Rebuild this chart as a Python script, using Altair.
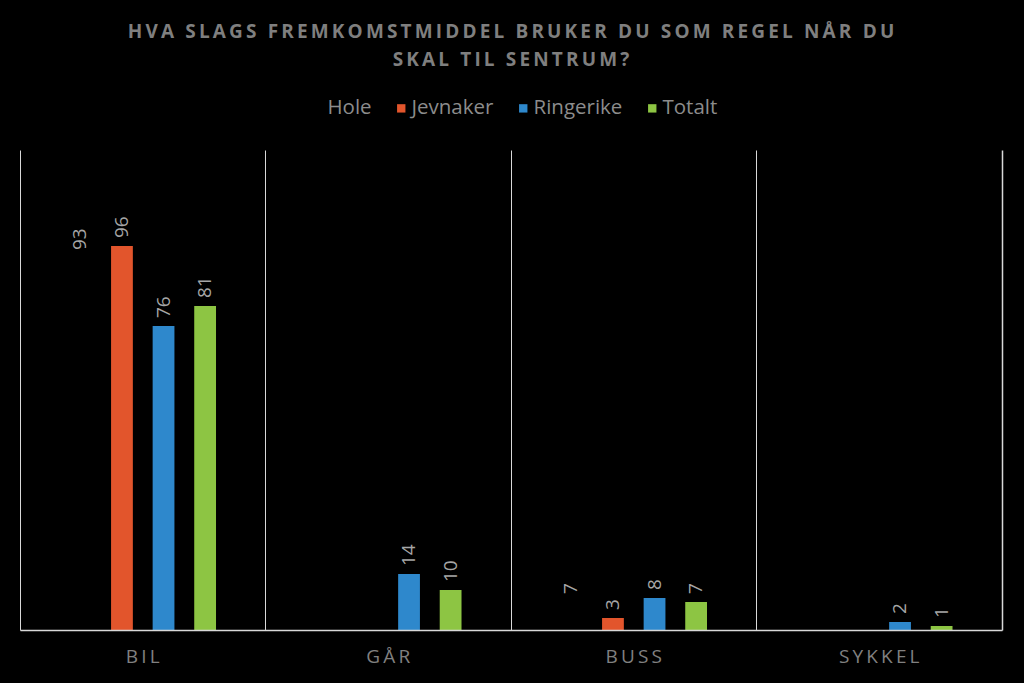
import altair as alt
import pandas as pd

categories = ["BIL", "GÅR", "BUSS", "SYKKEL"]
series = ["Hole", "Jevnaker", "Ringerike", "Totalt"]
hole = [93, None, 7, None]
jevnaker = [96, None, 3, None]
ringerike = [76, 14, 8, 2]
totalt = [81, 10, 7, 1]
colors = ["#000000", "#E2552C", "#2E88CC", "#8DC543"]
title_lines = ["HVA SLAGS FREMKOMSTMIDDEL BRUKER DU SOM REGEL NÅR DU", "SKAL TIL SENTRUM?"]

rows = []
for name, vals in zip(series, [hole, jevnaker, ringerike, totalt]):
    for cat, v in zip(categories, vals):
        if v is not None:
            rows.append({"kategori": cat, "serie": name, "verdi": v})
df = pd.DataFrame(rows)

FONT = "Open Sans"
THIN = "\u2009"
# letter-spaced title (emulates the wide tracking of the original)
spaced_title = [THIN.join(list(line)) for line in title_lines]
offset_domain = ["_pre"] + series + ["_post"]

base = alt.Chart(df).encode(
    x=alt.X("kategori:N", sort=categories,
            scale=alt.Scale(paddingInner=0, paddingOuter=0),
            axis=alt.Axis(title=None, grid=True, bandPosition=0, gridColor="#d9d9d9",
                          gridWidth=1, domainColor="#d9d9d9", domainWidth=1.5, ticks=False,
                          labelAngle=0, labelPadding=17, labelFontSize=19, labelColor="#808080",
                          labelFont=FONT, zindex=1,
                          labelExpr="join(split(datum.label, ''), '\u2009')")),
    xOffset=alt.XOffset("serie:N",
                        scale=alt.Scale(domain=offset_domain, paddingInner=0.476, paddingOuter=0.19)),
    y=alt.Y("verdi:Q", scale=alt.Scale(domain=[0, 120], nice=False),
            axis=alt.Axis(orient="right", title=None, labels=False, ticks=False, grid=False,
                          domain=True, domainColor="#d9d9d9", domainWidth=1.5, zindex=1)),
)

bars = base.mark_bar().encode(
    color=alt.Color("serie:N", sort=series,
                    scale=alt.Scale(domain=series, range=colors),
                    legend=alt.Legend(title=None, orient="none", direction="horizontal",
                                      legendX=287, legendY=-52, symbolType="square",
                                      symbolSize=70, symbolStrokeWidth=0, labelFontSize=20.5,
                                      labelColor="#8c8c8c", labelFont=FONT, symbolOffset=0,
                                      labelOffset=0, columnPadding=19)),
)

labels = base.mark_text(angle=270, align="left", baseline="middle", dx=8,
                        fontSize=19, color="#a6a6a6", font=FONT).encode(
    text=alt.Text("verdi:Q"),
)

chart = alt.layer(bars, labels).properties(
    width=982, height=480,
    padding={"left": 12, "top": 142, "right": 14, "bottom": 40},
    autosize=alt.AutoSizeParams(type="none"),
    background="#000000",
    title=alt.TitleParams(
        text=spaced_title,
        anchor="middle", fontSize=19, fontWeight="bold", color="#7f7f7f", font=FONT,
        lineHeight=28, offset=28),
).configure_view(stroke=None)

chart.save("out.html", embed_options={"renderer": "svg", "actions": False})

with open("out.html", encoding="utf-8") as f:
    html = f.read()
html = html.replace("<head>", "<head><style>html,body{background:#000000;}</style>", 1)
with open("out.html", "w", encoding="utf-8") as f:
    f.write(html)
